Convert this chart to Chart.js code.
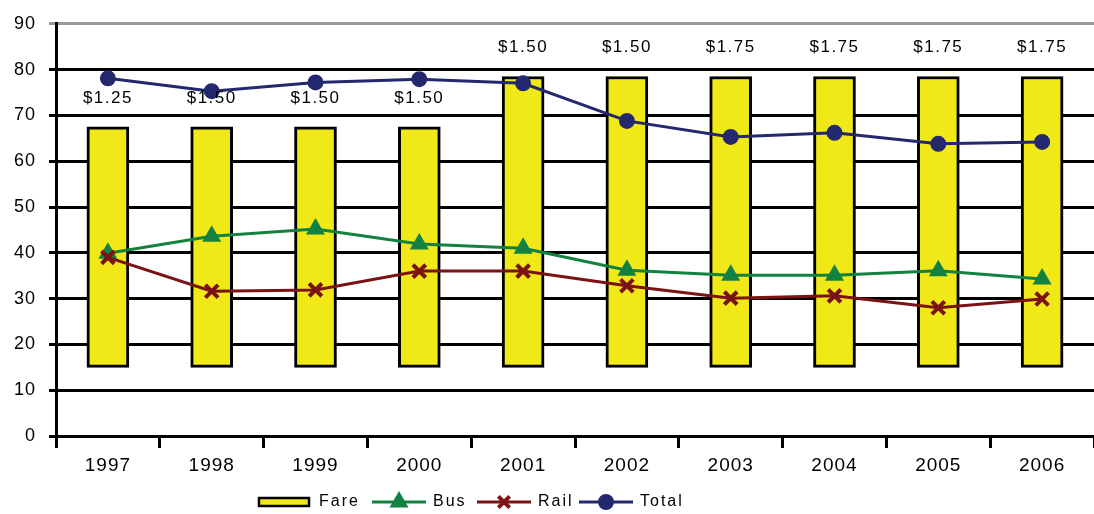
<!DOCTYPE html>
<html lang="en">
<head>
  <meta charset="UTF-8">
  <title>Fare and Ridership</title>
  <script src="https://cdn.jsdelivr.net/npm/chart.js"></script>
  <style>
    body { margin: 0; background: #fff; }
    #wrap { width: 1094px; height: 514px; }
  </style>
</head>
<body>
  <div id="wrap"><canvas id="fareChart"></canvas></div>

  <script>
    // Chart data
    const years = ['1997', '1998', '1999', '2000', '2001', '2002', '2003', '2004', '2005', '2006'];
    const fareLabels = ['$1.25', '$1.50', '$1.50', '$1.50', '$1.50', '$1.50', '$1.75', '$1.75', '$1.75', '$1.75'];
    const fareLow = [15, 15, 15, 15, 15, 15, 15, 15, 15, 15];
    const fareHigh = [67.5, 67.5, 67.5, 67.5, 78.5, 78.5, 78.5, 78.5, 78.5, 78.5];
    const bus = [39.9, 43.6, 45.2, 41.9, 41.0, 36.2, 35.1, 35.1, 36.1, 34.3];
    const rail = [39.0, 31.6, 31.9, 36.0, 36.0, 32.8, 30.1, 30.6, 28.0, 29.9];
    const total = [78.1, 75.3, 77.2, 77.9, 77.0, 68.8, 65.3, 66.2, 63.8, 64.2];

    const FONT = '"Liberation Sans", Arial, sans-serif';
    const YELLOW = '#F0E817';
    const GREEN = '#138241';
    const RED = '#7B1315';
    const NAVY = '#24286E';

    // the original text is a bit spread out
    const spacingPlugin = {
      id: 'spacing',
      beforeDraw(chart) { chart.ctx.letterSpacing = '1px'; }
    };

    // fare price labels above each bar
    const fareLabelPlugin = {
      id: 'fareLabels',
      afterDatasetsDraw(chart) {
        const ctx = chart.ctx;
        const meta = chart.getDatasetMeta(0);
        ctx.save();
        ctx.font = '17px ' + FONT;
        ctx.letterSpacing = '1.5px';
        ctx.fillStyle = '#000';
        ctx.textAlign = 'center';
        ctx.textBaseline = 'middle';
        meta.data.forEach((bar, i) => {
          ctx.fillText(fareLabels[i], bar.x, bar.y - 29);
        });
        ctx.restore();
      }
    };

    // legend drawn by hand so line items show line + marker
    const legendPlugin = {
      id: 'customLegend',
      afterDraw(chart) {
        const ctx = chart.ctx;
        const y = 502;
        ctx.save();
        ctx.font = '16px ' + FONT;
        ctx.letterSpacing = '2px';
        ctx.textBaseline = 'middle';

        // Fare
        ctx.fillStyle = YELLOW;
        ctx.fillRect(259, y - 4, 50, 8);
        ctx.strokeStyle = '#000';
        ctx.lineWidth = 2.5;
        ctx.strokeRect(259, y - 4, 50, 8);
        ctx.fillStyle = '#000';
        ctx.fillText('Fare', 319, y);

        const items = [
          { x: 372, color: GREEN, style: 'triangle', r: 7, text: 'Bus' },
          { x: 477, color: RED, style: 'crossRot', r: 8, text: 'Rail' },
          { x: 579, color: NAVY, style: 'circle', r: 6, text: 'Total' }
        ];
        items.forEach(it => {
          ctx.strokeStyle = it.color;
          ctx.lineWidth = 3;
          ctx.beginPath();
          ctx.moveTo(it.x, y);
          ctx.lineTo(it.x + 54, y);
          ctx.stroke();
          ctx.fillStyle = it.color;
          ctx.lineWidth = 4;
          Chart.helpers.drawPoint(ctx, {
            pointStyle: it.style, radius: it.r, borderWidth: 4, rotation: 0
          }, it.x + 27, y);
          ctx.fillStyle = '#000';
          ctx.fillText(it.text, it.x + 61, y);
        });
        ctx.restore();
      }
    };

    const ctx = document.getElementById('fareChart').getContext('2d');
    new Chart(ctx, {
      type: 'bar',
      data: {
        labels: years,
        datasets: [
          {
            type: 'bar',
            label: 'Fare',
            data: fareLow.map((v, i) => [v, fareHigh[i]]),
            backgroundColor: YELLOW,
            borderColor: '#000',
            borderWidth: 3,
            borderSkipped: false,
            barThickness: 42,
            order: 10
          },
          {
            type: 'line',
            label: 'Bus',
            data: bus,
            borderColor: GREEN,
            backgroundColor: GREEN,
            borderWidth: 3,
            pointStyle: 'triangle',
            pointRadius: 8,
            tension: 0,
            order: 3
          },
          {
            type: 'line',
            label: 'Rail',
            data: rail,
            borderColor: RED,
            backgroundColor: RED,
            borderWidth: 3,
            pointStyle: 'crossRot',
            pointRadius: 9,
            pointBorderWidth: 4,
            tension: 0,
            order: 2
          },
          {
            type: 'line',
            label: 'Total',
            data: total,
            borderColor: NAVY,
            backgroundColor: NAVY,
            borderWidth: 3,
            pointStyle: 'circle',
            pointRadius: 6.5,
            tension: 0,
            order: 1
          }
        ]
      },
      options: {
        responsive: true,
        maintainAspectRatio: false,
        animation: false,
        layout: { autoPadding: false, padding: { top: 21, right: 0, bottom: 0, left: 0 } },
        plugins: {
          legend: { display: false },
          tooltip: { enabled: false }
        },
        scales: {
          x: {
            offset: true,
            afterFit(scale) {
              scale.height = 78;
              scale.paddingRight = 0;
            },
            border: { display: true, color: '#000', width: 3 },
            grid: {
              offset: true,
              drawOnChartArea: false,
              drawTicks: true,
              tickLength: 12,
              color: '#000',
              lineWidth: 3
            },
            ticks: {
              color: '#000',
              padding: 6,
              font: { family: FONT, size: 19 }
            }
          },
          y: {
            min: 0,
            max: 90,
            afterFit(scale) { scale.width = 56; },
            border: { display: true, color: '#000', width: 3 },
            grid: {
              color: c => (c.tick && c.tick.value === 90 ? '#999' : '#000'),
              lineWidth: 3,
              tickLength: 7,
              drawTicks: true
            },
            ticks: {
              stepSize: 10,
              color: '#000',
              padding: 13,
              font: { family: FONT, size: 18 }
            }
          }
        }
      },
      plugins: [spacingPlugin, fareLabelPlugin, legendPlugin]
    });
  </script>
</body>
</html>
